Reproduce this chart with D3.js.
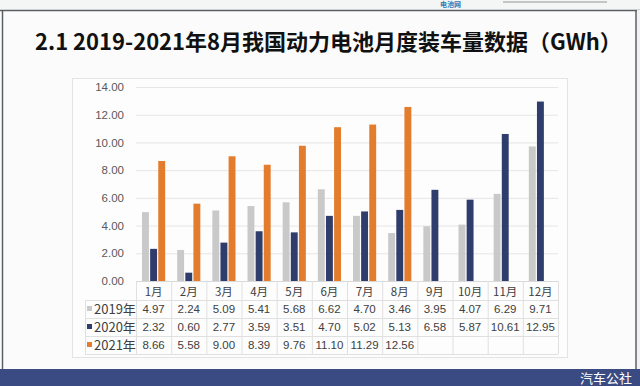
<!DOCTYPE html>
<html>
<head>
<meta charset="utf-8">
<script src="https://cdn.jsdelivr.net/npm/d3@7"></script>
<style>
  html, body { margin: 0; padding: 0; background: #fbfbfb; }
  svg { display: block; font-family: "Liberation Sans", "Noto Sans CJK SC", sans-serif; }
</style>
</head>
<body>
<div id="chart"></div>
<script>
const months = ["1月", "2月", "3月", "4月", "5月", "6月", "7月", "8月", "9月", "10月", "11月", "12月"];
const seriesNames = ["2019年", "2020年", "2021年"];
const values2019 = [4.97, 2.24, 5.09, 5.41, 5.68, 6.62, 4.70, 3.46, 3.95, 4.07, 6.29, 9.71];
const values2020 = [2.32, 0.60, 2.77, 3.59, 3.51, 4.70, 5.02, 5.13, 6.58, 5.87, 10.61, 12.95];
const values2021 = [8.66, 5.58, 9.00, 8.39, 9.76, 11.10, 11.29, 12.56];
const yTicks = [0, 2, 4, 6, 8, 10, 12, 14];
const colors = ["#c9c9c9", "#2f3d6c", "#e37c2c"];

const allSeries = [values2019, values2020, values2021];

const width = 640, height = 386;
const svg = d3.select("#chart").append("svg")
    .attr("width", width)
    .attr("height", height);

// slide frame
svg.append("rect").attr("x", 0).attr("y", 0).attr("width", width).attr("height", height).attr("fill", "#fbfbfb");
svg.append("rect").attr("x", 0).attr("y", 0).attr("width", width).attr("height", 10).attr("fill", "#f4f5f5");
svg.append("text").attr("x", 440).attr("y", 7).attr("fill", "#2f79b5")
    .style("font-family", "Noto Sans CJK SC")
    .style("font-size", "7px").style("font-weight", "bold").text("电池网");
svg.append("rect").attr("x", 503).attr("y", 1).attr("width", 104).attr("height", 2).attr("fill", "#c4c4c4");
svg.append("line").attr("x1", 0).attr("x2", width).attr("y1", 10.5).attr("y2", 10.5)
    .attr("stroke", "#5a5f66").attr("stroke-width", 1.5);
svg.append("line").attr("x1", 2.5).attr("x2", 2.5).attr("y1", 10).attr("y2", height)
    .attr("stroke", "#5a5f66").attr("stroke-width", 1.5);
svg.append("line").attr("x1", 636).attr("x2", 636).attr("y1", 10).attr("y2", height)
    .attr("stroke", "#5a5f66").attr("stroke-width", 1.5);
svg.append("rect").attr("x", 637).attr("y", 10).attr("width", 3).attr("height", height).attr("fill", "#f2f2f2");

// bottom band
svg.append("rect").attr("x", 0).attr("y", 369).attr("width", width).attr("height", 17).attr("fill", "#3a4a82");
svg.append("text").attr("x", 632).attr("y", 383).attr("fill", "#ffffff")
    .attr("text-anchor", "end")
    .style("font-family", "Noto Sans CJK SC").style("font-size", "13px").text("汽车公社");

// title
svg.append("text")
    .attr("x", 35).attr("y", 50)
    .style("font-family", "Noto Sans CJK SC")
    .style("font-size", "22px").style("font-weight", "bold").attr("fill", "#111")
    .text("2.1 2019-2021年8月我国动力电池月度装车量数据（GWh）");

// chart panel
svg.append("rect").attr("x", 72.5).attr("y", 78.5).attr("width", 495).attr("height", 279)
    .attr("fill", "#fdfdfd").attr("stroke", "#e4e4e4");

const x = d3.scaleBand().domain(months).range([136, 558]);
const x1 = d3.scaleBand().domain(seriesNames).range([6, x.bandwidth() - 6]).paddingInner(0.15);
const y = d3.scaleLinear().domain([0, 14]).range([281, 87]);

// gridlines
svg.append("g").selectAll("line").data(yTicks).enter().append("line")
    .attr("x1", 136).attr("x2", 558)
    .attr("y1", d => y(d) + 0.5).attr("y2", d => y(d) + 0.5)
    .attr("stroke", "#e6e6e6");

// y axis labels
const yAxis = d3.axisLeft(y).tickValues(yTicks).tickFormat(d3.format(".2f")).tickSize(0).tickPadding(0);
svg.append("g").attr("transform", "translate(124,0)").call(yAxis)
    .call(g => g.select(".domain").remove())
    .selectAll("text")
    .style("font-size", "11.5px").attr("fill", "#595959").style("font-family", "Liberation Sans");

// bars
seriesNames.forEach((name, si) => {
    svg.append("g").selectAll("rect")
        .data(allSeries[si].map((v, i) => ({ m: months[i], v: v })))
        .enter().append("rect")
        .attr("x", d => x(d.m) + x1(name))
        .attr("width", x1.bandwidth())
        .attr("y", d => y(d.v))
        .attr("height", d => y(0) - y(d.v))
        .attr("fill", colors[si]);
});

// data table
const rowTop = [281, 300, 318, 336, 354];
const table = svg.append("g");
table.append("line").attr("x1", 136).attr("x2", 558).attr("y1", rowTop[0] + 0.5).attr("y2", rowTop[0] + 0.5).attr("stroke", "#d9d9d9");
rowTop.slice(1).forEach(r => {
    table.append("line").attr("x1", 85).attr("x2", 558).attr("y1", r + 0.5).attr("y2", r + 0.5).attr("stroke", "#e0e0e0");
});
table.append("line").attr("x1", 85.5).attr("x2", 85.5).attr("y1", rowTop[1]).attr("y2", rowTop[4]).attr("stroke", "#e0e0e0");
months.concat(["end"]).forEach((m, i) => {
    const xx = m === "end" ? 558 : x(m);
    table.append("line").attr("x1", xx + 0.5).attr("x2", xx + 0.5).attr("y1", rowTop[0]).attr("y2", rowTop[4]).attr("stroke", "#e0e0e0");
});
table.selectAll(".cat").data(months).enter().append("text")
    .attr("x", d => x(d) + x.bandwidth() / 2).attr("y", 295.5)
    .attr("text-anchor", "middle").style("font-size", "11.5px").attr("fill", "#404040")
    .style("font-family", "Noto Sans CJK SC")
    .text(d => d);

seriesNames.forEach((name, si) => {
    const cy = (rowTop[si + 1] + rowTop[si + 2]) / 2;
    table.append("rect").attr("x", 87).attr("y", cy - 3).attr("width", 5).attr("height", 5).attr("fill", colors[si]);
    table.append("text").attr("x", 94).attr("y", cy + 4.5)
        .style("font-family", "Noto Sans CJK SC").style("font-size", "13px").attr("fill", "#404040")
        .text(name);
    table.append("g").selectAll("text").data(allSeries[si]).enter().append("text")
        .attr("x", (d, i) => x(months[i]) + x.bandwidth() / 2).attr("y", cy + 4)
        .attr("text-anchor", "middle").style("font-size", "11.5px").attr("fill", "#404040")
        .text(d => d3.format(".2f")(d));
});
</script>
</body>
</html>
